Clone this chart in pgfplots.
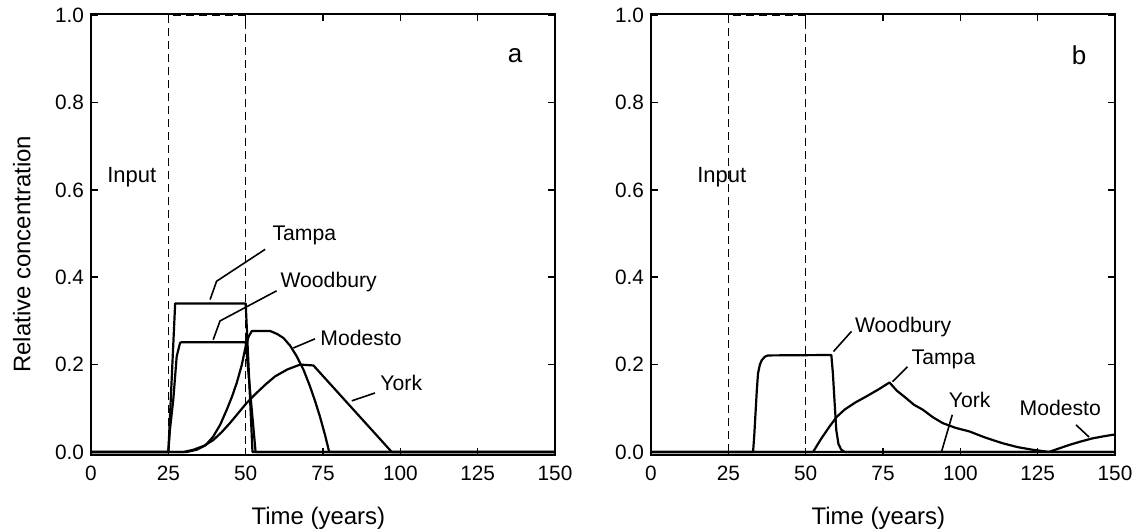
\documentclass[border=0pt]{standalone}
\usepackage{fontspec}
\setmainfont{Liberation Sans}
\usepackage{pgfplots}
\pgfplotsset{compat=1.18}

\pgfplotsset{
  conc/.style={
    scale only axis, width=8.162cm, height=7.757cm,
    xmin=0, xmax=150, ymin=-0.007, ymax=1.003,
    xtick={0,25,50,75,100,125,150},
    ytick={0,0.2,0.4,0.6,0.8,1.0},
    tick align=inside, major tick length=3.5pt,
    axis line style={line width=1pt},
    tick style={line width=0.8pt,black},
    /pgf/number format/assume math mode=true,
    tick label style={font=\fontsize{10.4}{12}\selectfont},
    yticklabel style={/pgf/number format/.cd,fixed,fixed zerofill,precision=1},
    xticklabel style={yshift=-2pt},
    xlabel={Time (years)},
    label style={font=\fontsize{12}{14}\selectfont},
    xlabel style={at={(axis description cs:0.49,-0.1425)},anchor=center},
    clip=false,
  },
  crv/.style={black,line width=1.1pt,line join=round},
  inp/.style={black,line width=0.7pt,dash pattern=on 4pt off 2.5pt},
}
\tikzset{
  ldr/.style={black,line width=0.8pt},
  lbl/.style={anchor=west,inner sep=1pt,font=\fontsize{10.6}{12}\selectfont},
}

\begin{document}
\begin{tikzpicture}
\useasboundingbox (0,0) rectangle (20cm,9.34cm);

% panel a
\begin{axis}[conc, at={(1.601cm,1.337cm)}, anchor=south west,
  ylabel={Relative concentration},
  ylabel style={at={(axis description cs:-0.149,0.455)},anchor=center}]
\addplot[inp] coordinates {(25,0)(25,1)(50,1)(50,0)};
% Tampa
\addplot[crv] coordinates {(0,0)(25,0)(27.2,0.340)(50,0.340)(52.2,0)(150,0)};
% Woodbury
\addplot[crv] coordinates {(0,0)(25,0)(25.5,0.05)(26.6,0.12)(27.7,0.219)(28.8,0.250)(29.2,0.251)(50,0.251)(53.2,0)(150,0)};
% Modesto
\addplot[crv] coordinates {(0,0)(31,0)(34.2,0.005)(37,0.015)(39.5,0.035)(41.8,0.063)(43.9,0.097)(45.6,0.127)(47.1,0.158)(48.7,0.198)(50,0.242)(51,0.265)(52,0.277)(57.9,0.277)(60.2,0.270)(62.2,0.261)(64.4,0.243)(66.5,0.219)(68.7,0.188)(70.8,0.150)(72.5,0.115)(74.0,0.081)(75.6,0.040)(77.0,0)(150,0)};
% York
\addplot[crv] coordinates {(0,0)(30,0)(33.1,0.005)(36.5,0.014)(39.5,0.027)(42.2,0.045)(44.9,0.066)(47.6,0.089)(50.3,0.112)(53.5,0.135)(56.5,0.155)(59.5,0.173)(63.5,0.189)(67.6,0.200)(71.9,0.198)(97.2,0)(150,0)};
% labels
\node[lbl,font=\fontsize{11}{13}\selectfont] at (axis cs:4.5,0.63) {Input};
\node[font=\fontsize{13}{15}\selectfont] at (axis cs:137.1,0.908) {a};
\draw[ldr] (axis cs:38.5,0.349) -- (axis cs:40.6,0.391) -- (axis cs:56.3,0.464);
\node[lbl] at (axis cs:57.9,0.497) {Tampa};
\draw[ldr] (axis cs:39.5,0.257) -- (axis cs:41.7,0.300) -- (axis cs:60.0,0.369);
\node[lbl] at (axis cs:60.5,0.389) {Woodbury};
\draw[ldr] (axis cs:65.4,0.238) -- (axis cs:72.4,0.259);
\node[lbl] at (axis cs:73.4,0.262) {Modesto};
\draw[ldr] (axis cs:84.3,0.117) -- (axis cs:91.8,0.135);
\node[lbl] at (axis cs:92.8,0.159) {York};
\end{axis}

% panel b
\begin{axis}[conc, at={(11.451cm,1.337cm)}, anchor=south west]
\addplot[inp] coordinates {(25,0)(25,1)(50,1)(50,0)};
% York
\addplot[crv] coordinates {(0,0)(150,0)};
% Woodbury
\addplot[crv] coordinates {(0,0)(33.0,0)(33.4,0.04)(33.8,0.09)(34.2,0.14)(34.6,0.18)(35.2,0.200)(35.8,0.210)(36.8,0.218)(37.8,0.221)(58.3,0.222)(58.8,0.18)(59.3,0.12)(59.9,0.050)(60.6,0.018)(61.5,0.005)(62.6,0)(150,0)};
% Tampa
\addplot[crv] coordinates {(0,0)(52.4,0)(55,0.030)(57.7,0.058)(60,0.080)(62.6,0.097)(66,0.113)(69.6,0.127)(73.5,0.143)(77.1,0.159)(79.5,0.140)(82.5,0.123)(85,0.108)(87.8,0.097)(91,0.080)(94.3,0.066)(98.5,0.055)(102.9,0.047)(108,0.033)(113.6,0.020)(118.5,0.011)(123.3,0.005)(128.7,0)(150,0)};
% Modesto
\addplot[crv] coordinates {(0,0)(128.7,0)(131.5,0.007)(135.2,0.016)(139,0.024)(142.7,0.031)(146.5,0.036)(150,0.040)};
% labels
\node[lbl,font=\fontsize{11}{13}\selectfont] at (axis cs:14.2,0.63) {Input};
\node[font=\fontsize{13}{15}\selectfont] at (axis cs:138.4,0.908) {b};
\draw[ldr] (axis cs:59.0,0.230) -- (axis cs:64.8,0.276);
\node[lbl] at (axis cs:65.2,0.287) {Woodbury};
\draw[ldr] (axis cs:78.1,0.161) -- (axis cs:82.9,0.195);
\node[lbl] at (axis cs:83.5,0.211) {Tampa};
\draw[ldr] (axis cs:93.9,0.0) -- (axis cs:97.4,0.085);
\node[lbl] at (axis cs:95.5,0.120) {York};
\draw[ldr] (axis cs:137.4,0.062) -- (axis cs:141.6,0.034);
\node[lbl] at (axis cs:118.4,0.101) {Modesto};
\end{axis}
\end{tikzpicture}
\end{document}
